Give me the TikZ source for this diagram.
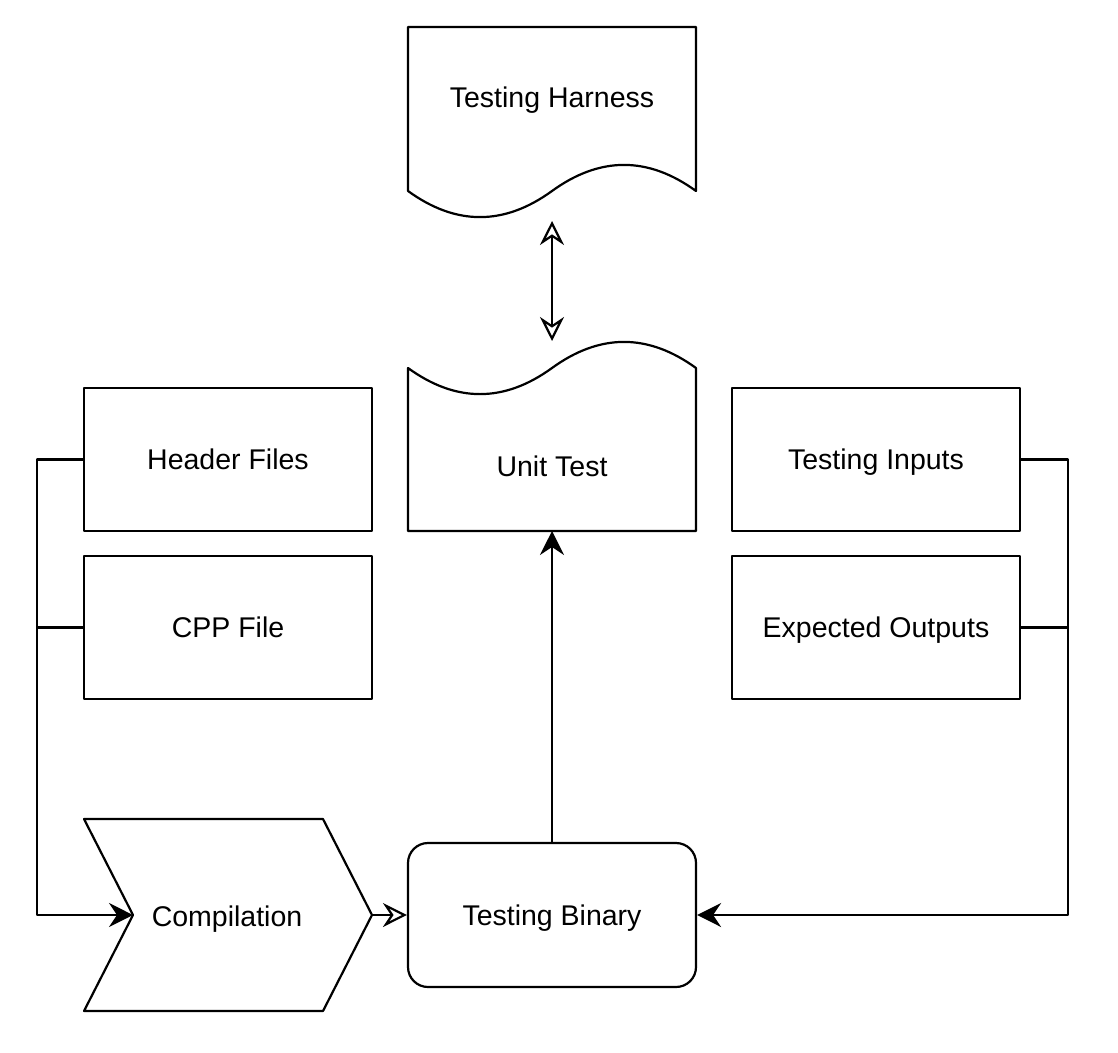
\documentclass[tikz,border=0pt]{standalone}
\usepackage{fontspec}
\setmainfont{Liberation Sans}
\usetikzlibrary{arrows.meta}
\begin{document}
\begin{tikzpicture}[x=1pt,y=-1pt,line width=2.2pt,line join=round,
  lbl/.style={font=\fontsize{28.5}{32}\selectfont,inner sep=0pt,text height=20pt,text depth=0pt},
  box/.style={draw,minimum width=288pt,minimum height=143pt,inner sep=0pt,font=\fontsize{28.5}{32}\selectfont,text height=20pt,text depth=0pt},
  fill arr/.style={-{Stealth[length=24pt,width=24pt,inset=8pt]}},
  open arr/.style={-{Stealth[open,length=24pt,width=24pt,inset=8pt]}}]
\useasboundingbox (0,0) rectangle (1118,1052);
\fill[white] (0,0) rectangle (1118,1052);
% Testing Harness document
\draw (408,191) -- (408,27) -- (696,27) -- (696,191)
  .. controls (648,156.2) and (600,156.2) .. (552,191)
  .. controls (504,225.8) and (456,225.8) .. (408,191) -- cycle;
\node[lbl] (harness) at (552,97) {Testing Harness};
\coordinate (harnessb) at (552,221);
% Unit Test document (flipped)
\draw (408,368) .. controls (456,402.8) and (504,402.8) .. (552,368)
  .. controls (600,333.2) and (648,333.2) .. (696,368)
  -- (696,531) -- (408,531) -- cycle;
\node[lbl] (unit) at (552,466) {Unit Test};
\coordinate (unitt) at (552,341);
\coordinate (unitb) at (552,531);
% rectangles
\node[box] (header) at (228,459.5) {Header Files};
\node[box] (cpp) at (228,627.5) {CPP File};
\node[box] (inputs) at (876,459.5) {Testing Inputs};
\node[box] (outputs) at (876,627.5) {Expected Outputs};
% Compilation chevron
\draw (84,819) -- (323,819) -- (372,915) -- (323,1011) -- (84,1011) -- (133,915) -- cycle;
\node[lbl] (comp) at (227,916) {Compilation};
\coordinate (compin) at (133,915);
\coordinate (compout) at (372,915);
% Testing Binary
\node[draw,rounded corners=20pt,minimum width=288pt,minimum height=144pt,inner sep=0pt,
  font=\fontsize{28.5}{32}\selectfont,text height=20pt,text depth=0pt] (binary) at (552,915) {Testing Binary};
% connectors
\draw[fill arr] (header.west) -- (37,459.5) -- (37,915) -- (compin);
\draw (cpp.west) -- (37,627.5);
\draw[fill arr] (inputs.east) -- (1068,459.5) -- (1068,915) -- (binary.east);
\draw (outputs.east) -- (1068,627.5);
\draw[open arr] (compout) -- (binary.west);
\draw[fill arr] (binary.north) -- (unitb);
\draw[{Stealth[open,length=24pt,width=24pt,inset=8pt]}-{Stealth[open,length=24pt,width=24pt,inset=8pt]}] (harnessb) -- (unitt);
\end{tikzpicture}
\end{document}
